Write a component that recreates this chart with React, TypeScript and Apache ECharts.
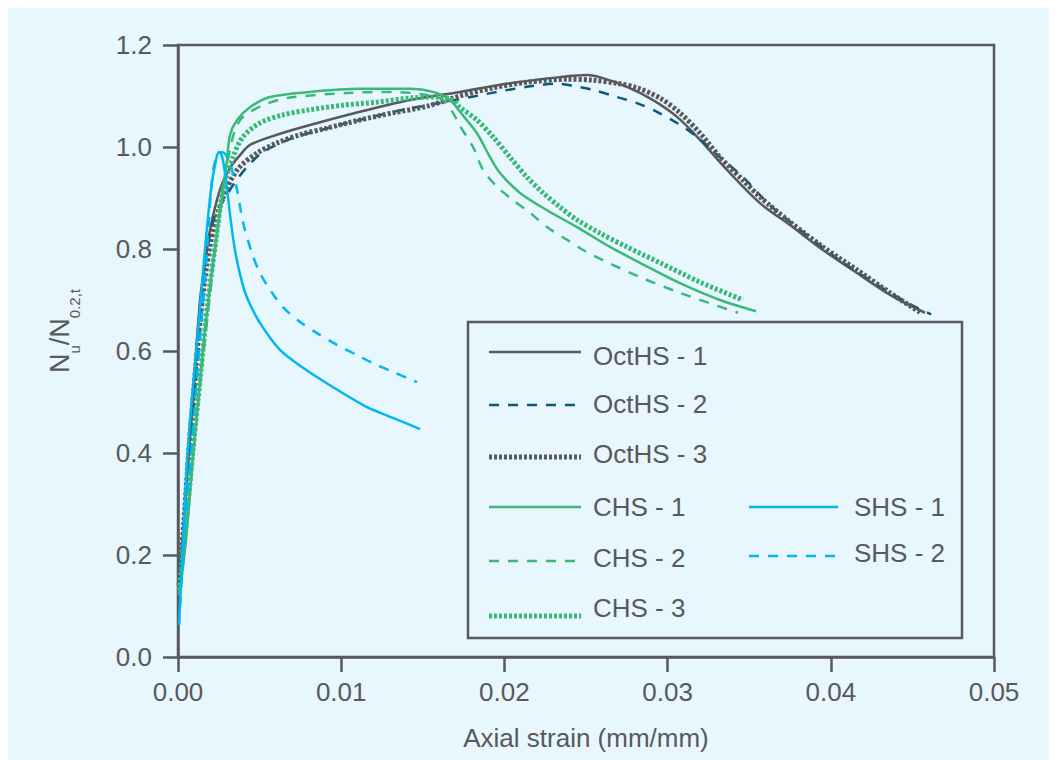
import React, { useEffect, useRef } from "react";
import * as echarts from "echarts";

// ---- Data: [axial strain (mm/mm), Nu/N0.2,t] ----
const ocths1: number[][] = [
  [0.00006, 0.141], [0.00037, 0.269], [0.00067, 0.406], [0.00092, 0.504], [0.00135, 0.7],
  [0.00165, 0.769], [0.00196, 0.837], [0.00257, 0.916], [0.00319, 0.959], [0.0038, 0.984],
  [0.00441, 1.004], [0.00607, 1.024], [0.00809, 1.043], [0.01115, 1.069], [0.01422, 1.092],
  [0.01728, 1.108], [0.02034, 1.125], [0.02341, 1.137], [0.02506, 1.141], [0.02604, 1.135],
  [0.02751, 1.118], [0.02911, 1.092], [0.03058, 1.059], [0.03199, 1.014], [0.03364, 0.955],
  [0.03566, 0.89], [0.0375, 0.847], [0.03952, 0.798], [0.0416, 0.753], [0.04363, 0.71],
  [0.04577, 0.675],
];
const ocths2: number[][] = [
  [0.00006, 0.141], [0.00037, 0.269], [0.00067, 0.4], [0.00098, 0.5], [0.00135, 0.65],
  [0.00165, 0.769], [0.00227, 0.867], [0.00288, 0.9], [0.00349, 0.931], [0.00429, 0.963],
  [0.00521, 0.99], [0.00705, 1.018], [0.0087, 1.033], [0.01036, 1.047], [0.01379, 1.073],
  [0.01667, 1.09], [0.01955, 1.108], [0.02138, 1.118], [0.02322, 1.124], [0.0242, 1.12],
  [0.02543, 1.112], [0.0269, 1.098], [0.02813, 1.086], [0.02935, 1.069], [0.03058, 1.047],
  [0.0318, 1.02], [0.03321, 0.98], [0.03462, 0.941], [0.03627, 0.886], [0.0383, 0.833],
  [0.04038, 0.782], [0.04259, 0.735], [0.04473, 0.694], [0.04615, 0.672],
];
const ocths3: number[][] = [
  [0.00006, 0.141], [0.00037, 0.269], [0.00067, 0.406], [0.00092, 0.504], [0.00135, 0.66],
  [0.00196, 0.808], [0.0027, 0.896], [0.00362, 0.955], [0.00484, 0.988], [0.00607, 1.008],
  [0.00748, 1.024], [0.00913, 1.037], [0.01115, 1.053], [0.01317, 1.067], [0.01526, 1.08],
  [0.01728, 1.1], [0.0193, 1.116], [0.02138, 1.127], [0.02384, 1.133], [0.02543, 1.131],
  [0.0269, 1.125], [0.02813, 1.116], [0.02953, 1.096], [0.03076, 1.067], [0.03199, 1.027],
  [0.03321, 0.98], [0.03462, 0.935], [0.03566, 0.902], [0.0375, 0.853], [0.03952, 0.804],
  [0.0416, 0.759], [0.04363, 0.714], [0.04547, 0.676],
];
const chs1: number[][] = [
  [0.00012, 0.131], [0.00049, 0.229], [0.00092, 0.392], [0.00135, 0.543], [0.00165, 0.641],
  [0.00214, 0.773], [0.0027, 0.902], [0.003, 0.975], [0.00319, 1.024], [0.00362, 1.053],
  [0.00441, 1.078], [0.00564, 1.098], [0.00809, 1.108], [0.01115, 1.114], [0.01422, 1.114],
  [0.01563, 1.108], [0.01667, 1.092], [0.01728, 1.069], [0.01832, 1.027], [0.01912, 0.98],
  [0.01973, 0.949], [0.02096, 0.91], [0.02261, 0.876], [0.02445, 0.843], [0.02647, 0.804],
  [0.02831, 0.773], [0.03076, 0.733], [0.03321, 0.7], [0.03542, 0.678],
];
const chs2: number[][] = [
  [0.00006, 0.122], [0.00049, 0.249], [0.00092, 0.396], [0.00135, 0.533], [0.00178, 0.661],
  [0.00227, 0.798], [0.0027, 0.906], [0.00306, 0.975], [0.00349, 1.033], [0.00398, 1.059],
  [0.00521, 1.082], [0.00668, 1.096], [0.01036, 1.106], [0.01317, 1.108], [0.01526, 1.102],
  [0.01624, 1.092], [0.01685, 1.067], [0.01728, 1.041], [0.01808, 1.0], [0.01869, 0.955],
  [0.01955, 0.922], [0.02053, 0.896], [0.02157, 0.871], [0.02261, 0.843], [0.02384, 0.818],
  [0.02482, 0.798], [0.02604, 0.778], [0.02831, 0.745], [0.03076, 0.714], [0.03431, 0.675],
];
const chs3: number[][] = [
  [0.00006, 0.131], [0.00049, 0.259], [0.00092, 0.406], [0.00135, 0.543], [0.00184, 0.7],
  [0.00233, 0.818], [0.00276, 0.916], [0.00337, 0.98], [0.00398, 1.02], [0.00502, 1.047],
  [0.00643, 1.063], [0.00809, 1.073], [0.01011, 1.082], [0.01219, 1.088], [0.01422, 1.096],
  [0.01587, 1.098], [0.01685, 1.092], [0.01728, 1.078], [0.01832, 1.053], [0.0193, 1.02],
  [0.02034, 0.98], [0.02138, 0.941], [0.02237, 0.91], [0.02341, 0.882], [0.02445, 0.857],
  [0.02586, 0.831], [0.02751, 0.804], [0.02953, 0.773], [0.03199, 0.735], [0.03462, 0.7],
];
const shs1: number[][] = [
  [0.00006, 0.063], [0.00025, 0.19], [0.00049, 0.347], [0.00074, 0.465], [0.00123, 0.641],
  [0.00165, 0.798], [0.00202, 0.916], [0.00233, 0.975], [0.00251, 0.99], [0.0027, 0.982],
  [0.00294, 0.935], [0.00319, 0.867], [0.00349, 0.798], [0.00392, 0.735], [0.00429, 0.7],
  [0.00502, 0.655], [0.00625, 0.602], [0.00766, 0.567], [0.0095, 0.529], [0.01158, 0.49],
  [0.01317, 0.469], [0.01483, 0.447],
];
const shs2: number[][] = [
  [0.00006, 0.063], [0.00043, 0.249], [0.00086, 0.425], [0.00135, 0.622], [0.00178, 0.798],
  [0.00208, 0.935], [0.00233, 0.978], [0.0027, 0.99], [0.00306, 0.978], [0.00331, 0.955],
  [0.00362, 0.916], [0.00398, 0.853], [0.00453, 0.792], [0.00502, 0.753], [0.00564, 0.72],
  [0.00643, 0.686], [0.00748, 0.657], [0.00852, 0.635], [0.00974, 0.612], [0.01097, 0.592],
  [0.01195, 0.576], [0.01317, 0.559], [0.01464, 0.539],
];

const seriesNames = ["OctHS - 1", "OctHS - 2", "OctHS - 3", "CHS - 1", "CHS - 2", "CHS - 3", "SHS - 1", "SHS - 2"];
const seriesData = [ocths1, ocths2, ocths3, chs1, chs2, chs3, shs1, shs2];

const GREY = "#58595b";
const TEAL = "#0c5a78";
const GREEN = "#3cb878";
const CYAN = "#00b8f0";
const BG = "#e8f6fd";
const FONT = '"Liberation Sans", Arial, Helvetica, sans-serif';

type Sty = { color: string; width: number; dash: number[] | "solid" };
const styles: Sty[] = [
  { color: GREY, width: 2.5, dash: "solid" },
  { color: TEAL, width: 2.5, dash: [10, 9] },
  { color: GREY, width: 5, dash: [3, 2] },
  { color: GREEN, width: 2.5, dash: "solid" },
  { color: GREEN, width: 2.5, dash: [10, 9] },
  { color: GREEN, width: 5, dash: [3, 2] },
  { color: CYAN, width: 2.5, dash: "solid" },
  { color: CYAN, width: 2.5, dash: [10, 9] },
];

export default function App() {
  const ref = useRef<HTMLDivElement>(null);
  useEffect(() => {
    if (!ref.current) return;
    document.body.style.overflow = "hidden";
    const chart = echarts.init(ref.current, null, { renderer: "svg" });

    // legend layout (pixel positions within the chart)
    const legendSlots = [
      { lx: 481, lw: 92, ly: 344, ty: 348 },
      { lx: 481, lw: 92, ly: 397, ty: 396 },
      { lx: 481, lw: 92, ly: 449, ty: 446 },
      { lx: 481, lw: 92, ly: 499, ty: 499 },
      { lx: 481, lw: 92, ly: 553, ty: 550 },
      { lx: 481, lw: 92, ly: 608, ty: 600 },
      { lx: 741, lw: 89, ly: 499, ty: 499 },
      { lx: 741, lw: 89, ly: 548, ty: 545 },
    ];
    const legendEls: any[] = [
      {
        type: "rect",
        shape: { x: 460, y: 314, width: 494, height: 316 },
        style: { fill: BG, stroke: GREY, lineWidth: 2.5 },
        z: 10,
      },
    ];
    seriesNames.forEach((name, i) => {
      const s = legendSlots[i];
      const st = styles[i];
      legendEls.push({
        type: "line",
        shape: { x1: s.lx, y1: s.ly, x2: s.lx + s.lw, y2: s.ly },
        style: {
          stroke: st.color,
          lineWidth: st.width,
          lineDash: st.dash === "solid" ? null : st.dash,
        },
        z: 11,
      });
      legendEls.push({
        type: "text",
        x: s.lx + s.lw + 12 + (i >= 6 ? 4 : 0),
        y: s.ty,
        style: {
          text: name,
          fill: GREY,
          fontSize: 26,
          fontFamily: FONT,
          verticalAlign: "middle",
        },
        z: 11,
      });
    });

    chart.setOption({
      animation: false,
      backgroundColor: BG,
      grid: {
        left: 170,
        top: 37,
        right: 63,
        bottom: 103,
        show: true,
        borderColor: GREY,
        borderWidth: 2.5,
        backgroundColor: "transparent",
      },
      xAxis: {
        type: "value",
        min: 0,
        max: 0.05,
        interval: 0.01,
        name: "Axial strain (mm/mm)",
        nameLocation: "middle",
        nameGap: 68,
        nameTextStyle: { color: GREY, fontSize: 26, fontFamily: FONT },
        axisLine: { lineStyle: { color: GREY, width: 2.5 } },
        axisTick: { show: true, length: 15, lineStyle: { color: GREY, width: 2.5 } },
        axisLabel: {
          color: GREY,
          fontSize: 26,
          fontFamily: FONT,
          margin: 22,
          formatter: (v: number) => v.toFixed(2),
        },
        splitLine: { show: false },
      },
      yAxis: {
        type: "value",
        min: 0,
        max: 1.2,
        interval: 0.2,
        name: "{n|N}{s|u}{n|/N}{s|0.2,t}",
        nameLocation: "middle",
        nameGap: 96,
        nameRotate: 90,
        nameTextStyle: {
          color: GREY,
          fontFamily: FONT,
          padding: [0, 0, 0, 40],
          rich: {
            n: { fontSize: 27, lineHeight: 44, color: GREY, fontFamily: FONT },
            s: { fontSize: 15, lineHeight: 16, verticalAlign: "bottom", color: GREY, fontFamily: FONT },
          },
        },
        axisLine: { lineStyle: { color: GREY, width: 2.5 } },
        axisTick: { show: true, length: 15, lineStyle: { color: GREY, width: 2.5 } },
        axisLabel: {
          color: GREY,
          fontSize: 26,
          fontFamily: FONT,
          margin: 26,
          formatter: (v: number) => v.toFixed(1),
        },
        splitLine: { show: false },
      },
      series: seriesNames.map((name, i) => ({
        name,
        type: "line",
        data: seriesData[i],
        showSymbol: false,
        symbol: "none",
        smooth: 0.3,
        lineStyle: {
          color: styles[i].color,
          width: styles[i].width,
          type: styles[i].dash,
          cap: "butt",
        },
        z: 2,
      })),
      graphic: legendEls,
    });
    return () => chart.dispose();
  }, []);
  return <div ref={ref} style={{ width: 1049, height: 752 }} />;
}
